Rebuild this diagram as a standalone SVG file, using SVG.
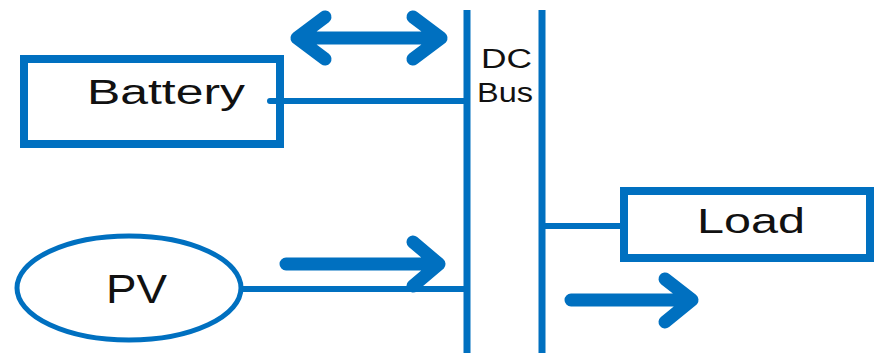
<svg xmlns="http://www.w3.org/2000/svg" width="874" height="353" viewBox="0 0 874 353">
<style>
.box{fill:#fff;stroke:#0070C0;stroke-width:8}
.wire{stroke:#0070C0;stroke-width:6;fill:none}
.bus{stroke:#0070C0;stroke-width:7;fill:none}
.arr{stroke:#0070C0;stroke-width:13;fill:none;stroke-linecap:round;stroke-linejoin:round}
.lbl{font-family:"Liberation Sans",Arial,sans-serif;fill:#111}
</style>
<g id="dcbus">
<text class="lbl" x="481" y="68" font-size="27" textLength="51" lengthAdjust="spacingAndGlyphs">DC</text>
<text class="lbl" x="477" y="102" font-size="27" textLength="56" lengthAdjust="spacingAndGlyphs">Bus</text>
</g>
<g id="battery">
<rect class="box" x="24" y="59" width="256" height="85"/>
<text class="lbl" x="87" y="104" font-size="35" textLength="158" lengthAdjust="spacingAndGlyphs">Battery</text>
</g>
<g id="load">
<rect class="box" x="624" y="191" width="246" height="67"/>
<text class="lbl" x="697" y="233" font-size="35" textLength="108" lengthAdjust="spacingAndGlyphs">Load</text>
</g>
<g id="pv">
<ellipse cx="129" cy="288" rx="112" ry="52" fill="#fff" stroke="#0070C0" stroke-width="5"/>
<text class="lbl" x="106" y="303" font-size="40" textLength="61" lengthAdjust="spacingAndGlyphs">PV</text>
</g>
<g id="connectors">
<line class="bus" x1="467" y1="10" x2="467" y2="353"/>
<line class="bus" x1="542" y1="10" x2="542" y2="353"/>
<line class="wire" x1="270" y1="101" x2="467" y2="101" stroke-linecap="round"/>
<line class="wire" x1="243" y1="289" x2="467" y2="289"/>
<line class="wire" x1="542" y1="226" x2="624" y2="226"/>
<path class="arr" d="M301 38 H439 M413 17 L441 38 L413 59 M325 17 L297 38 L325 59"/>
<path class="arr" d="M286 264 H437 M413 242 L439 264 L413 286"/>
<path class="arr" d="M571 300 H691 M665 279 L692 300 L665 322"/>
</g>
</svg>
